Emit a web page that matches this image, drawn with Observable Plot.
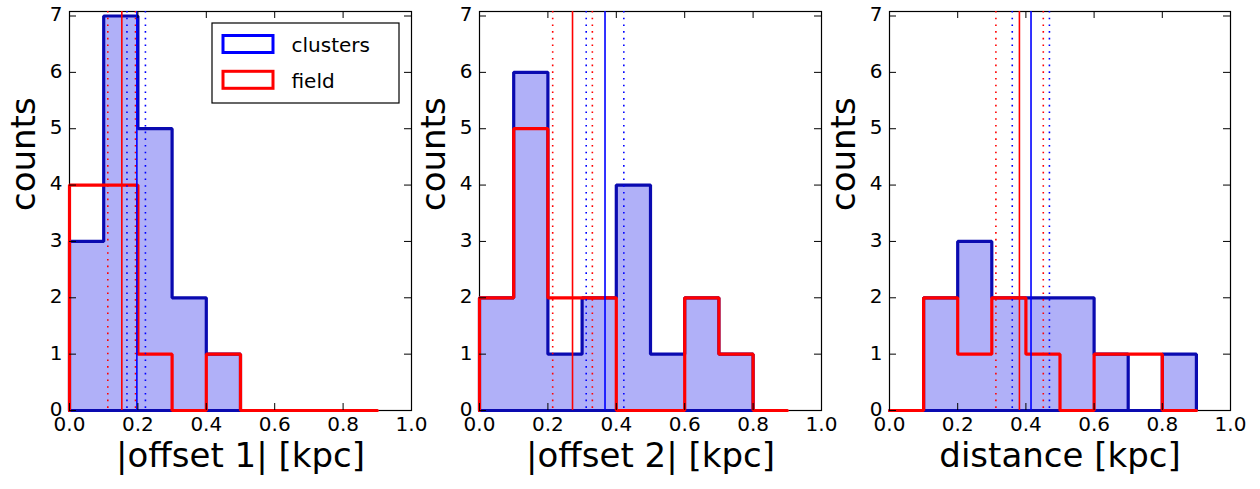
<!DOCTYPE html>
<html>
<head>
<meta charset="utf-8">
<script src="https://cdn.jsdelivr.net/npm/d3@7"></script>
<script src="https://cdn.jsdelivr.net/npm/@observablehq/plot@0.6"></script>
<style>
  body { margin: 0; background: white; font-family: "DejaVu Sans", sans-serif; }
  #wrap { position: relative; width: 1260px; height: 489px; overflow: hidden; }
  .panel { position: absolute; top: 0; }
</style>
</head>
<body>
<div id="wrap"></div>
<script>
// ---- data ----
const binEdges = [0.0, 0.1, 0.2, 0.3, 0.4, 0.5, 0.6, 0.7, 0.8, 0.9];
const xLabels = ["|offset 1| [kpc]", "|offset 2| [kpc]", "distance [kpc]"];
const clusters1 = [3, 7, 5, 2, 1, 0, 0, 0, 0];
const field1    = [4, 4, 1, 0, 1, 0, 0, 0, 0];
const clusters2 = [2, 6, 1, 2, 4, 1, 2, 1, 0];
const field2    = [2, 5, 2, 2, 0, 0, 2, 1, 0];
const clusters3 = [0, 2, 3, 2, 2, 2, 1, 0, 1];
const field3    = [0, 2, 1, 2, 1, 0, 1, 1, 0];
// [lower, median, upper]
const clusterLines1 = [0.168, 0.197, 0.222];
const fieldLines1   = [0.112, 0.153, 0.193];
const clusterLines2 = [0.312, 0.367, 0.422];
const fieldLines2   = [0.214, 0.272, 0.330];
const clusterLines3 = [0.360, 0.415, 0.469];
const fieldLines3   = [0.312, 0.381, 0.451];
const xTicks = [0.0, 0.2, 0.4, 0.6, 0.8, 1.0];
const xTickLabels = ["0.0", "0.2", "0.4", "0.6", "0.8", "1.0"];
const yTicks = [0, 1, 2, 3, 4, 5, 6, 7];
const legendLabels = ["clusters", "field"];

const panels = [
  {clusters: clusters1, field: field1, cl: clusterLines1, fl: fieldLines1, label: xLabels[0], left: 0, mL: 69, mR: 9},
  {clusters: clusters2, field: field2, cl: clusterLines2, fl: fieldLines2, label: xLabels[1], left: 420, mL: 59, mR: 19},
  {clusters: clusters3, field: field3, cl: clusterLines3, fl: fieldLines3, label: xLabels[2], left: 840, mL: 49, mR: 30}
];

const BLUE_EDGE = "#0a0ab0", BLUE_FILL = "#b0b0f8", RED = "#ff0000", BLUE = "#0000ff";
const W = 420, H = 489, mT = 11, mB = 79, TICK = 7;

function stepVerts(counts) {
  const v = [{x: binEdges[0], y: 0}];
  counts.forEach((c, i) => {
    v.push({x: binEdges[i], y: c}, {x: binEdges[i + 1], y: c});
  });
  v.push({x: v[v.length - 1].x, y: 0});
  return v;
}

const wrap = document.getElementById("wrap");
panels.forEach((p) => {
  const blue = stepVerts(p.clusters);
  const red = stepVerts(p.field);
  const blueClosed = blue.concat([blue[0]]);
  const fw = W - p.mL - p.mR, fh = H - mT - mB;
  const lines = [
    {x: p.fl[0], c: RED, dash: true}, {x: p.fl[1], c: RED, dash: false}, {x: p.fl[2], c: RED, dash: true},
    {x: p.cl[0], c: BLUE, dash: true}, {x: p.cl[1], c: BLUE, dash: false}, {x: p.cl[2], c: BLUE, dash: true}
  ];
  const chart = Plot.plot({
    width: W, height: H,
    marginLeft: p.mL, marginRight: p.mR, marginTop: mT, marginBottom: mB,
    x: {domain: [0, 1], axis: null},
    y: {domain: [0, 7.08], axis: null},
    style: {overflow: "visible", background: "transparent", fontFamily: "DejaVu Sans", color: "black"},
    marks: [
      Plot.area(blue, {x1: "x", y1: () => 0, y2: "y", fill: BLUE_FILL, curve: "linear"}),
      Plot.frame({stroke: "black", strokeWidth: 1.2}),
      Plot.line(blueClosed, {x: "x", y: "y", stroke: BLUE_EDGE, strokeWidth: 3.2, curve: "linear", strokeLinejoin: "miter"}),
      Plot.line(red, {x: "x", y: "y", stroke: RED, strokeWidth: 3.2, curve: "linear", strokeLinejoin: "miter"}),
      Plot.ruleX(lines.filter(d => d.dash), {x: "x", stroke: "c", strokeWidth: 1.6, strokeDasharray: "1.6,5.1"}),
      Plot.ruleX(lines.filter(d => !d.dash), {x: "x", stroke: "c", strokeWidth: 1.6}),
      Plot.tickX(xTicks, {x: d => d, stroke: "black", insetTop: fh - TICK}),
      Plot.tickX(xTicks, {x: d => d, stroke: "black", insetBottom: fh - TICK}),
      Plot.tickY(yTicks, {y: d => d, stroke: "black", insetRight: fw - TICK}),
      Plot.tickY(yTicks, {y: d => d, stroke: "black", insetLeft: fw - TICK}),
      Plot.text(xTicks, {x: d => d, frameAnchor: "bottom", dy: 20, text: (d, i) => xTickLabels[i], fontSize: 20, fill: "black"}),
      Plot.text(yTicks, {y: d => d, frameAnchor: "left", dx: -7, dy: -1, textAnchor: "end", text: d => String(d), fontSize: 20, fill: "black"}),
      Plot.text([p.label], {frameAnchor: "bottom", dy: 56, text: d => d, fontSize: 34, fill: "black"}),
      Plot.text(["counts"], {frameAnchor: "left", dx: -45, rotate: -90, text: d => d, fontSize: 34, fill: "black"})
    ]
  });
  const div = document.createElement("div");
  div.className = "panel";
  div.style.left = p.left + "px";
  div.appendChild(chart);
  wrap.appendChild(div);
});

// legend (panel 1)
const leg = d3.select("#wrap").append("svg")
  .attr("width", 190).attr("height", 84)
  .style("position", "absolute").style("left", "211px").style("top", "22px")
  .style("font-family", "DejaVu Sans");
leg.append("rect").attr("x", 1).attr("y", 1).attr("width", 187).attr("height", 80)
  .attr("fill", "white").attr("stroke", "black").attr("stroke-width", 1.2);
[BLUE, RED].forEach((c, i) => {
  const y0 = 13.5 + i * 35.8;
  leg.append("rect").attr("x", 12).attr("y", y0).attr("width", 50).attr("height", 17)
    .attr("fill", "white").attr("stroke", c).attr("stroke-width", 3);
  leg.append("text").attr("x", 80.5).attr("y", y0 + 16.5).attr("font-size", 20).attr("fill", "black")
    .text(legendLabels[i]);
});
</script>
</body>
</html>
